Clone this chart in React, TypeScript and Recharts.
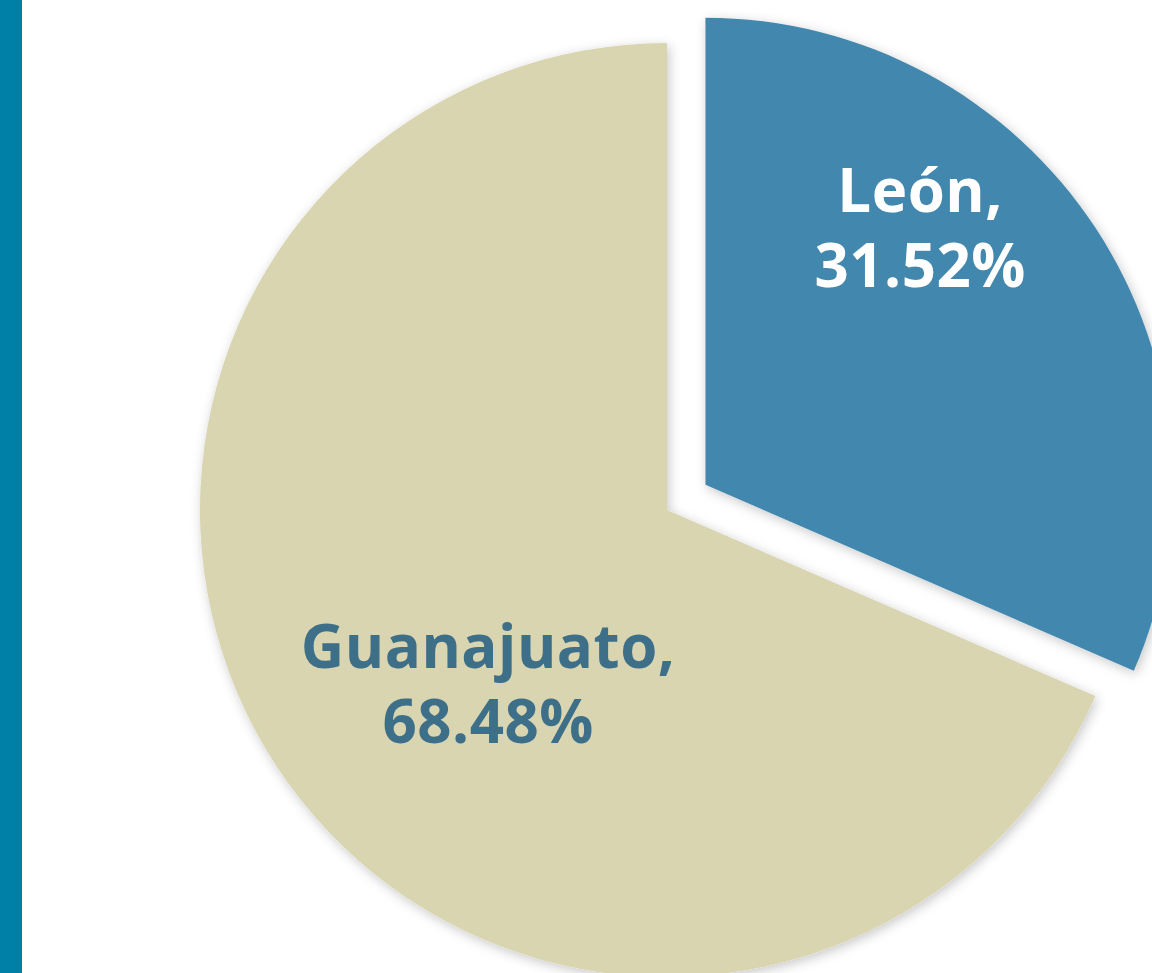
import { PieChart, Pie, Cell } from "recharts";

const names = ["León", "Guanajuato"];
const shares = [31.52, 68.48];
const sliceColors = ["#4387ad", "#d9d5b1"];
const labelColors = ["#ffffff", "#3d6f89"];

// label placement per slice: polar angle (deg) and radius ratio from slice vertex
const labelAngles = [47.7, -132.5];
const labelRadii = [0.683, 0.567];

const data = names.map((name, i) => ({ name, value: shares[i] }));

const CX = 667;
const CY = 510;
const R = 467;
const EXPLODE = 46;

const RAD = Math.PI / 180;

function makeLabel(visibleIndex: number) {
    return (props: any) => {
        const { cx, cy, outerRadius, index } = props;
        if (index !== visibleIndex) return null;
        const ang = labelAngles[index];
        const r = outerRadius * labelRadii[index];
        const x = cx + r * Math.cos(-ang * RAD);
        const y = cy + r * Math.sin(-ang * RAD);
        return (
            <text
                x={x}
                y={y}
                textAnchor="middle"
                fill={labelColors[index]}
                style={{
                    fontFamily: "'Open Sans', sans-serif",
                    fontWeight: 700,
                    fontSize: 60,
                    letterSpacing: 0.5,
                }}
            >
                <tspan x={x} dy={-37}>
                    {names[index]},
                </tspan>
                <tspan x={x} dy={75}>
                    {shares[index].toFixed(2)}%
                </tspan>
            </text>
        );
    };
}

export default function App() {
    // explode first slice along its mid angle
    const leonMid = 90 - (shares[0] / 100) * 360 / 2;
    const ex = EXPLODE * Math.cos(leonMid * RAD);
    const ey = -EXPLODE * Math.sin(leonMid * RAD);

    return (
        <div style={{ position: "relative", width: 1152, height: 973, background: "#fff", overflow: "hidden" }}>
            <style>{`body{margin:0}`}</style>
            <div
                style={{
                    position: "absolute",
                    left: 0,
                    top: 0,
                    width: 22,
                    height: 973,
                    background: "#0180a7",
                }}
            />
            <PieChart
                width={1152}
                height={973}
                margin={{ top: 0, right: 0, bottom: 0, left: 0 }}
                style={{ position: "absolute", left: 0, top: 0 }}
            >
                <defs>
                    <filter id="sliceShadow" x="-10%" y="-10%" width="120%" height="120%">
                        <feDropShadow dx="2" dy="3" stdDeviation="6" floodColor="#000" floodOpacity="0.22" />
                    </filter>
                </defs>
                <Pie
                    data={data}
                    dataKey="value"
                    nameKey="name"
                    cx={CX}
                    cy={CY}
                    outerRadius={R}
                    startAngle={90}
                    endAngle={-270}
                    stroke="none"
                    labelLine={false}
                    label={makeLabel(1)}
                    isAnimationActive={false}
                >
                    {data.map((d, i) => (
                        <Cell
                            key={d.name}
                            fill={i === 1 ? sliceColors[i] : "none"}
                            filter={i === 1 ? "url(#sliceShadow)" : undefined}
                        />
                    ))}
                </Pie>
                <Pie
                    data={data}
                    dataKey="value"
                    nameKey="name"
                    cx={CX + ex}
                    cy={CY + ey}
                    outerRadius={R}
                    startAngle={90}
                    endAngle={-270}
                    stroke="none"
                    labelLine={false}
                    label={makeLabel(0)}
                    isAnimationActive={false}
                >
                    {data.map((d, i) => (
                        <Cell
                            key={d.name}
                            fill={i === 0 ? sliceColors[i] : "none"}
                            filter={i === 0 ? "url(#sliceShadow)" : undefined}
                        />
                    ))}
                </Pie>
            </PieChart>
        </div>
    );
}
